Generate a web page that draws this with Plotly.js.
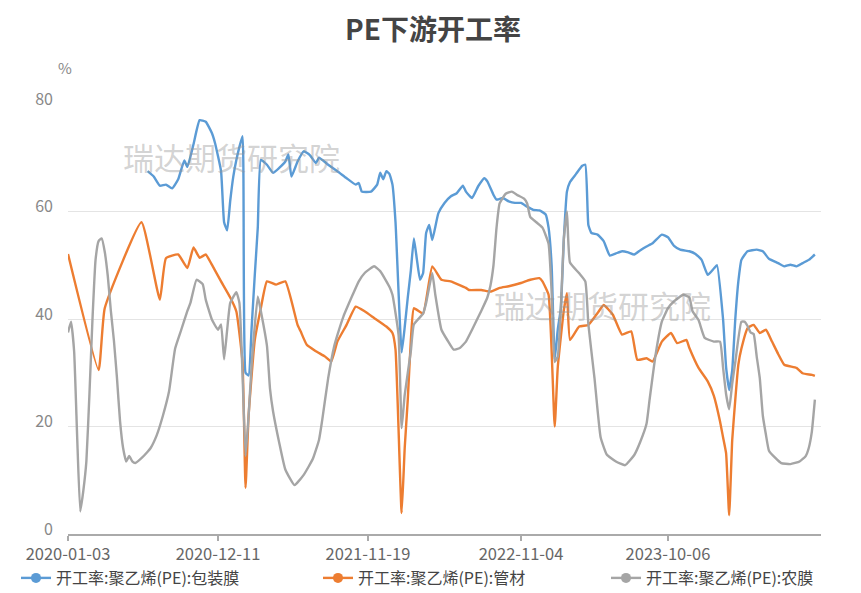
<!DOCTYPE html>
<html>
<head>
<meta charset="utf-8">
<script src="https://cdn.plot.ly/plotly-3.0.1.min.js"></script>
<style>html,body{margin:0;padding:0;background:#fff;}#chart{width:861px;height:593px;}</style>
</head>
<body>
<div id="chart"></div>
<script>
// ---- tick labels (category dates shown on the x axis) ----
const tickDates = ['2020-01-03','2020-12-11','2021-11-19','2022-11-04','2023-10-06'];

// ---- 开工率:聚乙烯(PE):包装膜 ----
const filmDates = ['2020-07-03','2020-07-17','2020-07-31','2020-08-14','2020-08-28','2020-09-11','2020-09-25','2020-10-02','2020-10-16','2020-10-30','2020-11-13','2020-11-27','2020-12-04','2020-12-18','2020-12-25','2021-01-01','2021-01-08','2021-01-15','2021-01-22','2021-02-05','2021-02-12','2021-02-19','2021-02-26','2021-03-05','2021-03-12','2021-03-19','2021-04-02','2021-04-16','2021-04-30','2021-05-14','2021-05-21','2021-05-28','2021-06-11','2021-06-25','2021-07-09','2021-07-23','2021-07-30','2021-08-20','2021-09-10','2021-10-01','2021-10-22','2021-10-29','2021-11-05','2021-11-26','2021-12-10','2021-12-17','2021-12-24','2021-12-31','2022-01-07','2022-01-14','2022-01-21','2022-02-04','2022-02-11','2022-02-18','2022-02-25','2022-03-04','2022-03-11','2022-03-18','2022-03-25','2022-04-01','2022-04-08','2022-04-15','2022-04-29','2022-05-13','2022-05-27','2022-06-10','2022-06-24','2022-07-01','2022-07-15','2022-07-29','2022-08-12','2022-08-19','2022-09-02','2022-09-09','2022-09-23','2022-10-07','2022-10-21','2022-11-04','2022-11-18','2022-12-02','2022-12-16','2022-12-30','2023-01-06','2023-01-13','2023-01-20','2023-01-27','2023-02-03','2023-02-10','2023-02-17','2023-02-24','2023-03-10','2023-03-24','2023-03-31','2023-04-07','2023-04-14','2023-04-28','2023-05-12','2023-05-26','2023-06-09','2023-06-23','2023-07-07','2023-07-21','2023-08-04','2023-08-18','2023-09-01','2023-09-22','2023-10-06','2023-10-20','2023-11-03','2023-11-24','2023-12-08','2023-12-22','2024-01-05','2024-01-19','2024-01-26','2024-02-09','2024-02-16','2024-02-23','2024-03-01','2024-03-08','2024-03-15','2024-03-22','2024-04-05','2024-04-26','2024-05-10','2024-05-24','2024-06-14','2024-06-28','2024-07-12','2024-07-26','2024-08-09','2024-08-23','2024-09-06'];
const filmValues = [67.5,66.5,64.8,65,64.3,66,69.5,68.3,72.5,77,76.7,74.6,72.8,67.5,58,56.5,62,66.5,69.6,74,30,29.5,38.5,48,57,69.6,68.7,67.2,68.1,69.3,70.6,66.5,69.3,71.2,70.5,69,70,68.7,67.5,66.2,65,65.3,63.7,63.7,65,67.2,66,67.5,67,65,58,33.8,38.5,44,49,55,51,47.3,48.5,56,57.5,54.7,59.7,61.6,62.8,63.4,64.8,63.7,62.5,64.7,66.2,65.6,63.1,62.2,62.5,61.9,61.6,61.6,60.9,60.3,60.2,59.5,57,50,32.5,38,42,55,63.7,65.5,67,68.5,68.7,57.5,56,55.7,54.5,51.8,52.2,52.6,52.4,52,52.8,53.5,54.1,55.7,55.2,53.6,52.9,52.6,52.1,51,48.2,49.4,50,40,31,26.8,30.5,40,47,51,52.6,52.9,52.6,51.2,50.4,49.8,50.1,49.8,50.4,51,52];

// ---- 开工率:聚乙烯(PE):管材 ----
const pipeDates = ['2020-01-03','2020-03-13','2020-03-27','2020-06-19','2020-07-31','2020-08-14','2020-09-11','2020-10-02','2020-10-16','2020-10-30','2020-11-13','2020-11-27','2020-12-18','2021-01-08','2021-01-22','2021-02-05','2021-02-12','2021-02-19','2021-03-05','2021-03-19','2021-04-02','2021-04-23','2021-05-14','2021-06-11','2021-06-18','2021-07-02','2021-07-23','2021-08-13','2021-08-27','2021-09-10','2021-10-01','2021-10-22','2021-11-12','2021-12-03','2021-12-31','2022-01-14','2022-01-21','2022-02-04','2022-02-11','2022-02-18','2022-02-25','2022-03-04','2022-03-25','2022-04-15','2022-05-06','2022-05-27','2022-07-01','2022-07-08','2022-08-05','2022-08-26','2022-09-16','2022-10-07','2022-11-04','2022-11-25','2022-12-16','2022-12-23','2023-01-06','2023-01-20','2023-01-27','2023-02-10','2023-02-17','2023-02-24','2023-03-17','2023-04-07','2023-04-28','2023-05-12','2023-06-02','2023-06-23','2023-07-14','2023-07-28','2023-08-18','2023-09-01','2023-09-22','2023-10-13','2023-10-27','2023-11-17','2023-11-24','2023-12-15','2024-01-05','2024-01-19','2024-02-02','2024-02-09','2024-02-16','2024-02-23','2024-03-01','2024-03-08','2024-03-15','2024-03-22','2024-04-05','2024-04-19','2024-05-03','2024-05-17','2024-05-31','2024-06-14','2024-06-28','2024-07-26','2024-08-09','2024-08-30','2024-09-06'];
const pipeValues = [52.1,30.5,42,58,43.6,51.3,52,49.5,53.3,51.4,52,50.1,47,44,41.4,32,8.6,22,36,42,47,46.4,47,38.9,37.7,35.2,34,33,32.1,35.8,38.9,42.3,41.4,40.2,38.6,37.4,34.3,3.9,16,25,36,42,41,49.8,47.3,47,45.8,45.4,45.4,45.1,45.8,46.1,46.7,47.3,47.6,47,44.5,20,31,41.7,44.8,36.1,38.6,38.9,41.1,42.6,40.8,37.1,37.7,32.4,32.7,32.1,35.8,37.4,35.5,36.1,34.6,30.9,28.4,25.7,21,18,15,3.5,17.5,25,31.5,34.5,38.3,38.9,37.4,38,35.8,33.5,31.5,30.9,29.9,29.6,29.4];

// ---- 开工率:聚乙烯(PE):农膜 ----
const agriDates = ['2020-01-03','2020-01-10','2020-01-17','2020-01-24','2020-01-31','2020-02-07','2020-02-14','2020-02-21','2020-02-28','2020-03-06','2020-03-13','2020-03-20','2020-03-27','2020-04-03','2020-04-10','2020-04-17','2020-04-24','2020-05-01','2020-05-08','2020-05-15','2020-05-22','2020-05-29','2020-06-05','2020-06-19','2020-07-03','2020-07-10','2020-07-24','2020-08-07','2020-08-21','2020-09-04','2020-09-18','2020-10-02','2020-10-09','2020-10-23','2020-11-06','2020-11-13','2020-11-27','2020-12-11','2020-12-18','2020-12-25','2021-01-01','2021-01-08','2021-01-22','2021-01-29','2021-02-05','2021-02-12','2021-02-19','2021-02-26','2021-03-12','2021-03-19','2021-04-02','2021-04-09','2021-04-16','2021-04-30','2021-05-14','2021-06-04','2021-06-25','2021-07-16','2021-07-30','2021-08-06','2021-08-20','2021-09-03','2021-09-10','2021-09-24','2021-10-15','2021-10-29','2021-11-12','2021-12-03','2021-12-17','2022-01-07','2022-01-14','2022-01-28','2022-02-04','2022-02-11','2022-02-25','2022-03-04','2022-03-25','2022-04-01','2022-04-15','2022-04-22','2022-05-06','2022-05-20','2022-06-03','2022-06-17','2022-07-01','2022-07-15','2022-08-05','2022-08-19','2022-08-26','2022-09-02','2022-09-09','2022-09-16','2022-09-30','2022-10-14','2022-10-28','2022-11-11','2022-11-18','2022-11-25','2022-12-09','2022-12-23','2023-01-06','2023-01-13','2023-01-20','2023-01-27','2023-02-03','2023-02-10','2023-02-17','2023-02-24','2023-03-17','2023-03-31','2023-04-07','2023-04-21','2023-05-05','2023-05-19','2023-06-09','2023-06-30','2023-07-21','2023-08-04','2023-08-18','2023-08-25','2023-09-08','2023-09-22','2023-10-06','2023-10-20','2023-11-10','2023-11-24','2023-12-01','2023-12-15','2023-12-29','2024-01-19','2024-02-02','2024-02-09','2024-02-16','2024-02-23','2024-03-01','2024-03-08','2024-03-22','2024-03-29','2024-04-05','2024-04-12','2024-04-19','2024-04-26','2024-05-03','2024-05-10','2024-05-17','2024-05-24','2024-06-07','2024-06-21','2024-07-12','2024-08-02','2024-08-16','2024-08-23','2024-08-30','2024-09-06'];
const agriValues = [37.5,39.5,34,18,4.2,8,13.5,26,40,51,54.5,55,52.5,48,41.5,36,29,21,16,13.5,14.5,13.5,13.2,14.1,15.3,16,18.4,22,26.5,34.5,38,41.5,43,47.3,46.5,43.6,39.9,38,39,32.5,38,43,45,43,30,14.5,22,31.5,44.2,41.5,35,27,22.8,17,12,9.1,11,14,17.5,21,29,35,37,40.5,44.5,47,48.6,49.8,48.9,46,44.5,37,19.7,25.9,34,39,41,43,48.5,44.5,38,36,34.3,34.6,35.8,38,41.5,44,46.2,50,57,61.5,63.3,63.7,63,62.4,61.5,59,58,57,54,45,32,33,42,55,60,50.5,48.5,47,39,29,18,14.8,13.5,12.8,14.7,17.2,20.5,25,33.5,39.5,42,43.3,44.5,44,41.5,39.8,36.5,35.8,35.8,31,26,23.2,28,32,39.5,39.5,38.7,37.5,37.2,33,29,22,18.5,15.5,14.2,13.2,13,13.5,14.5,16,19,25];

const seriesNames = ['开工率:聚乙烯(PE):包装膜','开工率:聚乙烯(PE):管材','开工率:聚乙烯(PE):农膜'];
const seriesColors = ['#5B9BD5','#ED7D31','#A5A5A5'];
const seriesX = [filmDates, pipeDates, agriDates];
const seriesY = [filmValues, pipeValues, agriValues];
const legendIds = ['legend','legend2','legend3'];

const FONT = '"Noto Sans CJK SC", "Noto Sans", sans-serif';
const traces = [];
for (let i = 0; i < 3; i++) {
  traces.push({
    type: 'scatter', mode: 'lines', x: seriesX[i], y: seriesY[i],
    name: seriesNames[i], showlegend: false, hoverinfo: 'skip',
    line: {color: seriesColors[i], width: 2.4, shape: 'spline', smoothing: 0.4}
  });
}
for (let i = 0; i < 3; i++) {
  traces.push({
    type: 'scatter', mode: 'lines+markers', x: [null], y: [null],
    name: seriesNames[i], showlegend: true, legend: legendIds[i],
    line: {color: seriesColors[i], width: 2.4},
    marker: {color: seriesColors[i], size: 10, symbol: 'circle'}
  });
}

function legendAt(px) {
  return {orientation: 'h', xref: 'container', yref: 'container',
          x: px / 861, xanchor: 'left', y: 1 - 578 / 593, yanchor: 'middle',
          font: {family: FONT, size: 16, color: '#444'}, bgcolor: 'rgba(0,0,0,0)', borderwidth: 0};
}

const wm = '瑞达期货研究院';
const layout = {
  width: 861, height: 593,
  paper_bgcolor: '#ffffff', plot_bgcolor: '#ffffff',
  margin: {l: 68, r: 40, t: 104, b: 59, autoexpand: false},
  font: {family: FONT, color: '#666'},
  title: {text: '<b>PE下游开工率</b>', x: 433 / 861, xref: 'container', xanchor: 'center',
          y: 0.949, yref: 'container', yanchor: 'middle',
          font: {family: FONT, size: 28, color: '#444'}},
  xaxis: {
    type: 'date', range: ['2020-01-03', '2024-09-20'],
    tickmode: 'array', tickvals: tickDates, ticktext: tickDates,
    showgrid: false, zeroline: false, showline: true, linecolor: '#aaaaaa', linewidth: 1.5,
    ticks: 'outside', ticklen: 5, tickcolor: '#aaaaaa', tickwidth: 1.5,
    tickfont: {family: FONT, size: 16.5, color: '#666'}
  },
  yaxis: {
    range: [0, 80], tickvals: [0, 20, 40, 60, 80], ticktext: ['0','20','40','60','80'],
    showgrid: true, gridcolor: '#e4e4e4', gridwidth: 1, zeroline: false, showline: false,
    ticks: '', ticklabelstandoff: 14, ticklabelshift: -5,
    tickfont: {family: FONT, size: 16, color: '#888'}
  },
  showlegend: true,
  legend: legendAt(16),
  legend2: legendAt(318),
  legend3: legendAt(606),
  annotations: [
    {text: '%', xref: 'paper', yref: 'paper', x: -0.004, y: 1.084, xanchor: 'center', yanchor: 'middle',
     showarrow: false, font: {family: FONT, size: 15, color: '#888'}},
    {text: wm, xref: 'paper', yref: 'paper', x: 0.217, y: 0.877, xanchor: 'center', yanchor: 'middle',
     showarrow: false, font: {family: FONT, size: 31, color: 'rgba(150,150,150,0.42)'}},
    {text: wm, xref: 'paper', yref: 'paper', x: 0.71, y: 0.533, xanchor: 'center', yanchor: 'middle',
     showarrow: false, font: {family: FONT, size: 31, color: 'rgba(150,150,150,0.42)'}}
  ]
};

Plotly.newPlot('chart', traces, layout, {displayModeBar: false, staticPlot: true});
</script>
</body>
</html>
